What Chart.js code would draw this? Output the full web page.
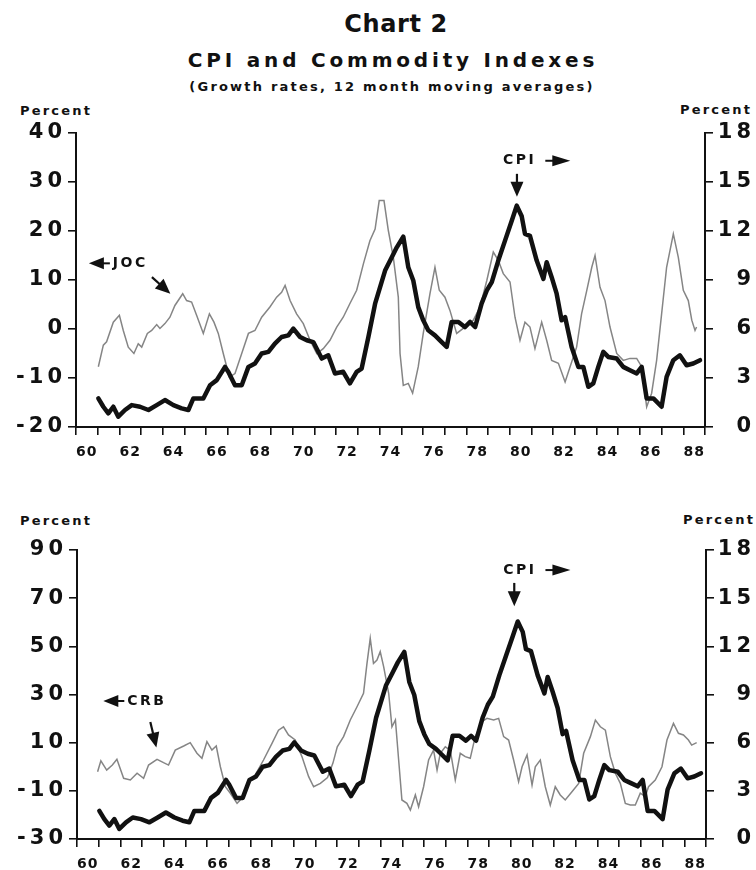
<!DOCTYPE html>
<html>
<head>
<meta charset="utf-8">
<script src="https://cdn.jsdelivr.net/npm/chart.js@4.4.0/dist/chart.umd.min.js"></script>
<style>
  body { margin: 0; background: #fff; width: 756px; height: 870px; position: relative; overflow: hidden;
         font-family: "DejaVu Sans", Arial, sans-serif; font-weight: bold; color: #111; }
  .txt { position: absolute; white-space: nowrap; transform: translate(-50%, -50%); }
  .lbl { position: absolute; white-space: nowrap; transform: translateY(-50%); font-size: 13px; letter-spacing: 2.2px; }
  canvas { position: absolute; left: 0; }
</style>
</head>
<body>
<div class="txt" style="left:396px; top:24px; font-size:24px; letter-spacing:0.6px;">Chart 2</div>
<div class="txt" style="left:393px; top:60px; font-size:20px; letter-spacing:3.8px;">CPI and Commodity Indexes</div>
<div class="txt" style="left:392px; top:86px; font-size:13px; letter-spacing:2.2px;">(Growth rates, 12 month moving averages)</div>

<div class="lbl" style="left:20px; top:110px;">Percent</div>
<div class="lbl" style="left:680px; top:109px;">Percent</div>
<div class="lbl" style="left:20px; top:520px;">Percent</div>
<div class="lbl" style="left:683px; top:519px;">Percent</div>

<canvas id="top" width="756" height="370" style="top:100px"></canvas>
<canvas id="bottom" width="756" height="352" style="top:518px"></canvas>

<script>
// --- DADOS ---
// JOC, crescimento em %, eixo da esquerda (painel de cima)
const jocYears = [1961.03,1961.26,1961.41,1961.72,1962.0,1962.18,1962.41,1962.67,1962.87,1963.03,1963.29,1963.49,1963.72,1963.87,1964.1,1964.33,1964.56,1964.92,1965.1,1965.33,1965.56,1965.87,1966.15,1966.36,1966.56,1966.79,1967.07,1967.33,1967.64,1967.95,1968.25,1968.56,1968.94,1969.25,1969.48,1969.64,1969.87,1970.17,1970.48,1970.79,1971.1,1971.4,1971.71,1972.02,1972.32,1972.63,1972.94,1973.25,1973.55,1973.79,1973.98,1974.2,1974.4,1974.63,1974.86,1974.94,1975.09,1975.32,1975.52,1975.78,1976.01,1976.32,1976.55,1976.75,1977.01,1977.24,1977.55,1977.93,1978.32,1978.63,1978.94,1979.24,1979.47,1979.7,1980.01,1980.24,1980.47,1980.7,1980.93,1981.16,1981.47,1981.7,1981.93,1982.24,1982.55,1982.78,1983.08,1983.31,1983.55,1983.78,1983.93,1984.16,1984.39,1984.62,1984.93,1985.23,1985.54,1985.85,1986.08,1986.31,1986.54,1986.77,1987.0,1987.23,1987.54,1987.77,1988.0,1988.23,1988.39,1988.54,1988.61];
const jocValues = [-7.7,-3.3,-2.6,1.4,2.8,-0.3,-3.7,-5.0,-3.0,-3.7,-0.9,-0.3,0.9,0.1,1.1,2.4,4.8,7.2,5.8,5.5,2.8,-0.9,3.1,1.4,-0.9,-5.0,-9.8,-9.1,-5.0,-0.9,-0.3,2.4,4.5,6.5,7.5,8.9,5.8,3.1,1.1,-2.3,-5.0,-4.0,-2.3,0.4,2.4,5.2,7.9,13.3,18.0,20.4,26.2,26.2,20.1,14.6,6.5,-5.0,-11.5,-11.1,-13.1,-7.7,-0.9,7.2,12.6,7.9,6.5,3.8,-0.9,0.4,1.8,4.5,9.9,15.7,14.0,11.3,9.6,2.4,-2.3,1.4,0.4,-4.0,1.4,-2.3,-6.4,-7.0,-10.8,-7.7,-3.7,3.1,7.9,12.6,15.0,8.5,5.8,0.4,-5.0,-6.4,-6.0,-6.0,-7.7,-15.9,-13.1,-6.4,3.1,12.6,19.4,14.6,7.9,5.8,1.8,-0.3,0.4];

// CRB, crescimento em %, eixo da esquerda (painel de baixo)
const crbYears = [1960.95,1961.1,1961.37,1961.63,1961.84,1962.15,1962.46,1962.77,1963.07,1963.3,1963.69,1963.99,1964.22,1964.53,1964.92,1965.22,1965.53,1965.76,1965.99,1966.22,1966.42,1966.61,1966.84,1967.07,1967.38,1967.68,1967.91,1968.22,1968.6,1968.99,1969.29,1969.52,1969.75,1970.06,1970.37,1970.68,1970.91,1971.22,1971.55,1971.8,1972.0,1972.29,1972.6,1972.91,1973.21,1973.37,1973.52,1973.67,1973.83,1973.98,1974.14,1974.37,1974.52,1974.68,1974.83,1974.98,1975.21,1975.37,1975.6,1975.75,1975.98,1976.21,1976.44,1976.6,1976.75,1976.98,1977.21,1977.44,1977.67,1977.9,1978.13,1978.36,1978.67,1978.9,1979.21,1979.44,1979.67,1979.9,1980.13,1980.36,1980.52,1980.75,1980.98,1981.13,1981.36,1981.59,1981.82,1982.05,1982.28,1982.51,1982.82,1983.13,1983.36,1983.67,1983.9,1984.13,1984.36,1984.59,1984.82,1985.05,1985.28,1985.51,1985.74,1985.97,1986.2,1986.35,1986.66,1986.97,1987.2,1987.5,1987.73,1987.96,1988.19,1988.34,1988.57];
const crbValues = [-2.1,2.5,-1.4,0.7,3.1,-4.8,-5.5,-2.7,-4.8,0.7,3.1,1.7,0.7,6.9,8.6,10.0,5.6,3.5,10.4,6.9,8.6,0.0,-8.3,-11.0,-15.2,-12.4,-6.9,-3.4,2.8,9.7,15.2,16.6,13.2,11.1,4.2,-4.1,-8.3,-6.9,-4.5,1.5,8.3,12.5,19.4,24.9,30.5,42.9,53.3,42.9,44.3,47.8,41.5,30.5,16.6,19.4,2.8,-13.8,-15.2,-18.0,-11.7,-16.6,-8.3,2.8,6.9,-1.4,5.6,8.3,6.9,-5.5,5.6,4.2,3.5,12.5,18.7,20.1,19.4,20.1,12.5,11.1,2.8,-6.2,0.0,4.9,-7.6,0.0,2.8,-8.3,-15.9,-8.3,-11.7,-13.8,-10.4,-6.9,5.6,12.5,19.4,16.6,15.2,4.2,-2.7,-6.9,-15.2,-15.9,-15.9,-11.0,-12.4,-8.3,-5.5,0.0,11.1,18.0,13.9,13.2,11.1,9.0,10.0];

// CPI, crescimento em %, eixo da direita (mesma série nos dois painéis)
const cpiYears = [1961.03,1961.26,1961.49,1961.72,1961.95,1962.26,1962.57,1962.95,1963.34,1963.72,1964.1,1964.49,1964.87,1965.18,1965.41,1965.87,1966.18,1966.49,1966.87,1967.02,1967.33,1967.64,1967.95,1968.25,1968.56,1968.87,1969.17,1969.48,1969.79,1970.02,1970.33,1970.64,1970.94,1971.33,1971.63,1971.94,1972.32,1972.63,1972.94,1973.17,1973.48,1973.79,1974.25,1974.56,1974.79,1975.09,1975.32,1975.55,1975.78,1976.01,1976.24,1976.55,1976.78,1977.09,1977.32,1977.63,1977.93,1978.17,1978.4,1978.7,1978.94,1979.17,1979.47,1979.78,1980.09,1980.32,1980.55,1980.7,1980.93,1981.24,1981.55,1981.7,1981.93,1982.16,1982.39,1982.55,1982.85,1983.16,1983.39,1983.62,1983.85,1984.08,1984.31,1984.54,1984.93,1985.23,1985.54,1985.85,1986.08,1986.31,1986.62,1987.0,1987.23,1987.54,1987.84,1988.15,1988.46,1988.77];
const cpiValues = [1.75,1.24,0.84,1.24,0.63,1.04,1.34,1.24,1.04,1.34,1.65,1.34,1.14,1.04,1.75,1.75,2.56,2.87,3.68,3.38,2.56,2.56,3.68,3.89,4.5,4.6,5.11,5.51,5.61,6.02,5.51,5.31,5.2,4.19,4.39,3.28,3.38,2.67,3.38,3.58,5.51,7.55,9.58,10.39,11.0,11.65,9.78,8.97,7.34,6.53,5.92,5.61,5.31,4.9,6.43,6.43,6.12,6.43,6.12,7.55,8.36,8.87,10.19,11.41,12.63,13.55,12.9,11.82,11.7,10.19,9.07,10.09,9.17,8.16,6.53,6.73,4.9,3.68,3.68,2.46,2.67,3.68,4.6,4.29,4.19,3.68,3.48,3.28,3.68,1.75,1.75,1.24,3.07,4.09,4.39,3.78,3.89,4.09];

// Eixos
const yearMin = 1960, yearMax = 1989;
const jocTicks = { min: -20, max: 40, step: 10 };
const crbTicks = { min: -30, max: 90, step: 20 };
const cpiTicks = { min: 0, max: 18, step: 3 };

// Anotações (em unidades dos dados)
const topNotes = [
  { text: 'JOC', x: 1961.7, y: 13.4, axis: 'yL', head: 'left' },
  { x1: 1963.5, y1: 10.6, x2: 1964.35, y2: 7.2, axis: 'yL' },
  { text: 'CPI', x: 1979.69, y: 16.3, axis: 'yR', head: 'right' },
  { x1: 1980.33, y1: 15.5, x2: 1980.33, y2: 14.1, axis: 'yR' }
];
const bottomNotes = [
  { text: 'CRB', x: 1962.32, y: 27.3, axis: 'yL', head: 'left' },
  { x1: 1963.38, y1: 18.6, x2: 1963.66, y2: 8.0, axis: 'yL' },
  { text: 'CPI', x: 1979.65, y: 16.75, axis: 'yR', head: 'right' },
  { x1: 1980.16, y1: 15.95, x2: 1980.16, y2: 14.5, axis: 'yR' }
];

const FONT = "'DejaVu Sans', Arial, sans-serif";
const halfYears = [];
for (let v = yearMin; v <= yearMax; v += 0.5) halfYears.push(v);

// espaçamento entre letras: rótulos do eixo y antes dos datasets, eixo x depois
const spacingPlugin = {
  id: 'spacing',
  beforeDraw(chart) { chart.ctx.letterSpacing = '4px'; },
  afterDatasetsDraw(chart) { chart.ctx.letterSpacing = '1px'; }
};

function triangle(ctx, tip, base, half) {
  ctx.beginPath();
  ctx.moveTo(tip.x, tip.y);
  ctx.lineTo(base.x, base.y - half);
  ctx.lineTo(base.x, base.y + half);
  ctx.closePath();
  ctx.fill();
}

const notesPlugin = {
  id: 'notes',
  afterDatasetsDraw(chart, args, opts) {
    const ctx = chart.ctx;
    const xs = chart.scales.x;
    ctx.save();
    ctx.fillStyle = '#111';
    ctx.strokeStyle = '#111';
    ctx.letterSpacing = '2.5px';
    ctx.font = 'bold 14px ' + FONT;
    ctx.textBaseline = 'middle';
    ctx.textAlign = 'left';
    (opts.items || []).forEach(n => {
      const ys = chart.scales[n.axis];
      if (n.text) {
        const px = xs.getPixelForValue(n.x);
        const py = ys.getPixelForValue(n.y);
        ctx.fillText(n.text, px, py);
        ctx.lineWidth = 2;
        if (n.head === 'left') {
          triangle(ctx, { x: px - 24, y: py }, { x: px - 9, y: py }, 6);
          ctx.beginPath(); ctx.moveTo(px - 12, py); ctx.lineTo(px - 3, py); ctx.stroke();
        } else {
          const w = ctx.measureText(n.text).width;
          const s = px + w + 9;
          ctx.beginPath(); ctx.moveTo(s, py); ctx.lineTo(s + 10, py); ctx.stroke();
          triangle(ctx, { x: s + 25, y: py }, { x: s + 7, y: py }, 5.5);
        }
      } else {
        const x1 = xs.getPixelForValue(n.x1), y1 = ys.getPixelForValue(n.y1);
        const x2 = xs.getPixelForValue(n.x2), y2 = ys.getPixelForValue(n.y2);
        const a = Math.atan2(y2 - y1, x2 - x1);
        const L = 15, H = 6.5;
        ctx.lineWidth = 2.2;
        ctx.beginPath(); ctx.moveTo(x1, y1);
        ctx.lineTo(x2 - Math.cos(a) * (L - 2), y2 - Math.sin(a) * (L - 2)); ctx.stroke();
        const bx = x2 - Math.cos(a) * L, by = y2 - Math.sin(a) * L;
        ctx.beginPath();
        ctx.moveTo(x2, y2);
        ctx.lineTo(bx + Math.sin(a) * H, by - Math.cos(a) * H);
        ctx.lineTo(bx - Math.sin(a) * H, by + Math.cos(a) * H);
        ctx.closePath();
        ctx.fill();
      }
    });
    ctx.restore();
  }
};

function toPoints(xsArr, ysArr) {
  return xsArr.map((x, i) => ({ x: x, y: ysArr[i] }));
}

function criarGrafico(id, cfg) {
  const ctx = document.getElementById(id).getContext('2d');
  return new Chart(ctx, {
    type: 'line',
    data: {
      datasets: [
        {
          label: 'CPI',
          data: toPoints(cpiYears, cpiValues),
          yAxisID: 'yR',
          borderColor: '#111',
          borderWidth: 4.5,
          borderJoinStyle: 'round',
          borderCapStyle: 'round',
          pointRadius: 0,
          tension: 0
        },
        {
          label: cfg.name,
          data: toPoints(cfg.years, cfg.values),
          yAxisID: 'yL',
          borderColor: '#858585',
          borderWidth: 1.5,
          pointRadius: 0,
          tension: 0
        }
      ]
    },
    options: {
      responsive: false,
      animation: false,
      devicePixelRatio: 1,
      layout: { padding: { top: cfg.padTop, right: 1, left: 0, bottom: 0 } },
      plugins: {
        legend: { display: false },
        tooltip: { enabled: false },
        notes: { items: cfg.notes }
      },
      scales: {
        x: {
          type: 'linear',
          min: yearMin,
          max: yearMax,
          afterBuildTicks: s => { s.ticks = halfYears.map(v => ({ value: v })); },
          afterFit: s => { s.height = cfg.xHeight; },
          border: { display: true, color: '#111', width: 2 },
          grid: {
            drawOnChartArea: false,
            drawTicks: true,
            tickLength: 8,
            lineWidth: 1.6,
            color: c => (c.tick && Number.isInteger(c.tick.value)) ? '#111' : 'rgba(0,0,0,0)'
          },
          ticks: {
            z: 1,
            autoSkip: false,
            maxRotation: 0,
            minRotation: 0,
            padding: 9,
            color: '#111',
            font: { family: FONT, size: 14, weight: 'bold' },
            callback: v => (v % 2 === 0.5) ? String(Math.floor(v) % 100) : ''
          }
        },
        yL: {
          position: 'left',
          min: cfg.left.min,
          max: cfg.left.max,
          afterFit: s => { s.width = cfg.leftWidth; },
          border: { display: true, color: '#111', width: 2 },
          grid: { drawOnChartArea: false, drawTicks: true, tickLength: 8, lineWidth: 1.6, color: '#111' },
          ticks: {
            stepSize: cfg.left.step,
            padding: 2,
            color: '#111',
            font: { family: FONT, size: 21, weight: 'bold' },
            callback: v => String(v)
          }
        },
        yR: {
          position: 'right',
          min: cpiTicks.min,
          max: cpiTicks.max,
          afterFit: s => { s.width = cfg.rightWidth; },
          border: { display: true, color: '#111', width: 2 },
          grid: { drawOnChartArea: false, drawTicks: true, tickLength: 8, lineWidth: 1.6, color: '#111' },
          ticks: {
            stepSize: cpiTicks.step,
            crossAlign: 'far',
            color: '#111',
            font: { family: FONT, size: 21, weight: 'bold' }
          }
        }
      }
    },
    plugins: [spacingPlugin, notesPlugin]
  });
}

criarGrafico('top', {
  name: 'JOC', years: jocYears, values: jocValues, left: jocTicks, notes: topNotes,
  padTop: 33, xHeight: 43, leftWidth: 76, rightWidth: 50
});

criarGrafico('bottom', {
  name: 'CRB', years: crbYears, values: crbValues, left: crbTicks, notes: bottomNotes,
  padTop: 32, xHeight: 31, leftWidth: 77, rightWidth: 49
});
</script>
</body>
</html>
